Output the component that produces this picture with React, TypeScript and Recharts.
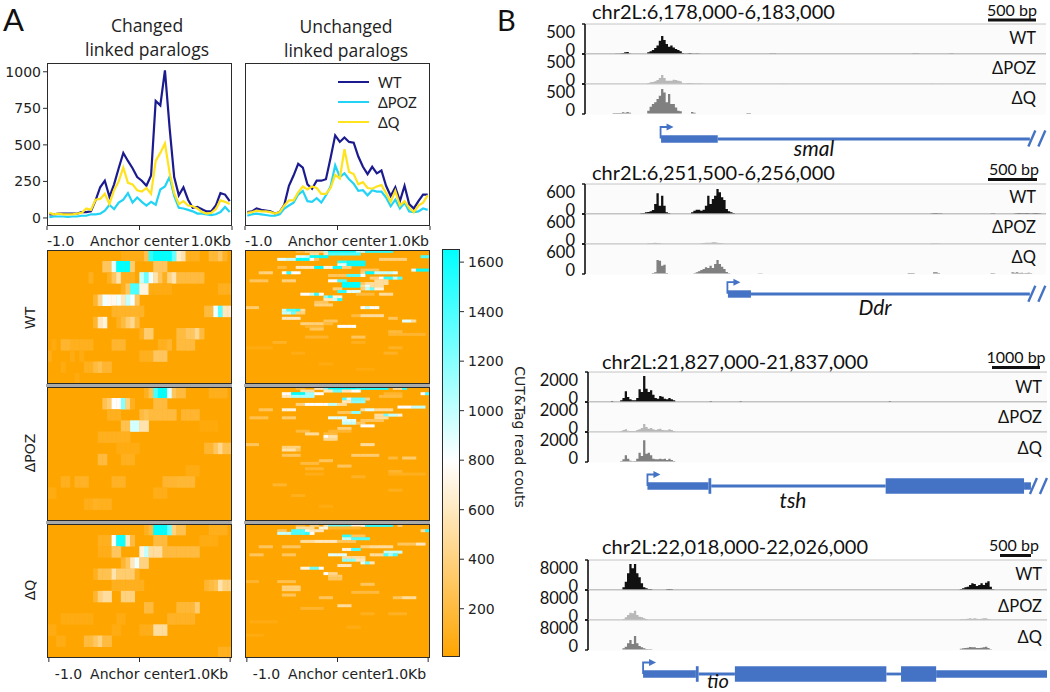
import React from 'react';
import {
    Area,
    AreaChart,
    Bar,
    BarChart,
    ComposedChart,
    Legend,
    Line,
    LineChart,
    ReferenceArea,
    ReferenceLine,
    Scatter,
    ScatterChart,
    XAxis,
    YAxis,
} from 'recharts';

// ---- Panel A: average profiles, 40 bins across the anchor
const changedWT = [25, 25, 30, 30, 30, 30, 30, 40, 40, 45, 120, 210, 255, 145, 230, 340, 445, 390, 340, 280, 255, 220, 290, 800, 770, 1010, 620, 280, 155, 210, 125, 70, 75, 60, 45, 45, 85, 170, 160, 115];
const changedPOZ = [5, 10, 10, 10, 8, 10, 10, 15, 15, 25, 25, 30, 50, 90, 60, 105, 125, 170, 105, 140, 110, 85, 110, 90, 195, 215, 280, 150, 70, 65, 55, 45, 30, 30, 25, 20, 25, 40, 75, 40];
const changedQ = [35, 25, 30, 25, 25, 25, 30, 35, 65, 55, 125, 130, 165, 95, 190, 250, 345, 240, 230, 190, 180, 205, 165, 390, 445, 510, 310, 170, 95, 115, 85, 80, 65, 40, 30, 35, 60, 120, 110, 95];
const unchangedWT = [40, 45, 65, 55, 50, 45, 30, 40, 90, 220, 290, 370, 345, 230, 200, 255, 255, 265, 410, 565, 520, 550, 520, 515, 420, 350, 300, 350, 305, 325, 220, 150, 210, 115, 220, 95, 65, 115, 160, 160];
const unchangedPOZ = [15, 25, 30, 25, 20, 15, 15, 25, 65, 85, 105, 160, 185, 115, 110, 135, 105, 155, 215, 360, 280, 305, 265, 235, 185, 190, 155, 190, 180, 180, 140, 80, 125, 65, 105, 45, 40, 45, 65, 55];
const unchangedQ = [35, 40, 50, 45, 45, 40, 30, 40, 85, 120, 120, 175, 215, 195, 215, 205, 165, 165, 205, 295, 270, 470, 315, 300, 230, 245, 205, 200, 215, 225, 170, 110, 185, 85, 115, 70, 40, 85, 105, 155];

const profileTicks = [0, 250, 500, 750, 1000];
const anchorLabels = ['-1.0', 'Anchor center', '1.0Kb'];
const colorbarTicks = [200, 400, 600, 800, 1000, 1200, 1400, 1600];

// ---- Panel A: heatmaps, [row, first col, last col, read count]
type Run = [number, number, number, number];

const heatChangedWT: Run[] = [
    [0, 16, 20, 70], [0, 21, 21, 250], [0, 22, 22, 1500], [0, 23, 26, 1650], [0, 27, 27, 1300], [0, 28, 28, 650], [0, 29, 29, 550], [0, 30, 32, 100], [0, 35, 36, 180], [0, 37, 37, 300], [0, 38, 38, 120],
    [1, 12, 13, 300], [1, 14, 14, 900], [1, 15, 17, 1650], [1, 18, 18, 350], [1, 23, 25, 300],
    [2, 9, 9, 100], [2, 13, 13, 100], [2, 14, 14, 300], [2, 15, 15, 550], [2, 16, 18, 100], [2, 20, 20, 1000], [2, 21, 21, 1300], [2, 22, 22, 850], [2, 23, 23, 550], [2, 24, 24, 300], [2, 25, 25, 100], [2, 26, 26, 400], [2, 27, 27, 550], [2, 28, 33, 200],
    [3, 16, 16, 100], [3, 17, 17, 300], [3, 18, 19, 1400], [3, 20, 21, 700], [3, 22, 26, 60], [3, 37, 39, 100],
    [4, 10, 10, 150], [4, 11, 11, 450], [4, 12, 12, 850], [4, 13, 14, 750], [4, 15, 15, 850], [4, 16, 16, 600], [4, 17, 17, 1000], [4, 18, 18, 850], [4, 19, 19, 300],
    [5, 14, 20, 130], [5, 34, 35, 200], [5, 36, 36, 850], [5, 37, 37, 1350], [5, 38, 39, 600],
    [6, 10, 10, 150], [6, 11, 11, 600], [6, 12, 12, 700], [6, 15, 15, 100], [6, 16, 16, 200], [6, 17, 17, 350], [6, 18, 18, 450], [6, 19, 19, 200],
    [7, 20, 20, 100], [7, 21, 22, 350], [7, 28, 29, 200], [7, 30, 31, 300], [7, 32, 32, 450], [7, 33, 33, 200],
    [8, 1, 1, 50], [8, 3, 4, 150], [8, 5, 9, 100], [8, 14, 16, 150], [8, 24, 25, 100], [8, 26, 26, 150], [8, 28, 31, 200],
    [9, 0, 0, 80], [9, 5, 5, 60], [9, 7, 7, 60], [9, 20, 22, 100], [9, 23, 25, 300],
    [10, 3, 3, 60], [10, 8, 9, 100], [10, 10, 10, 200], [10, 11, 11, 250], [10, 12, 13, 150],
    [11, 6, 6, 50],
];
const heatChangedPOZ: Run[] = [
    [0, 21, 21, 100], [0, 22, 22, 250], [0, 23, 23, 1400], [0, 24, 25, 1650], [0, 26, 26, 900], [0, 27, 27, 300], [0, 28, 29, 200], [0, 35, 38, 90],
    [1, 12, 12, 250], [1, 13, 13, 350], [1, 14, 15, 800], [1, 16, 16, 1200], [1, 17, 17, 400], [1, 18, 18, 100], [1, 23, 25, 200],
    [2, 13, 15, 100], [2, 20, 20, 200], [2, 21, 21, 250], [2, 22, 25, 200], [2, 26, 27, 200], [2, 29, 32, 150],
    [3, 16, 17, 250], [3, 18, 19, 950], [3, 20, 21, 550], [3, 33, 36, 40],
    [4, 11, 17, 100],
    [5, 15, 19, 60], [5, 34, 35, 150], [5, 36, 36, 300], [5, 37, 37, 450], [5, 38, 39, 250],
    [6, 11, 12, 200], [6, 16, 18, 100],
    [7, 30, 32, 60],
    [8, 3, 4, 100], [8, 6, 8, 120], [8, 14, 16, 120], [8, 25, 27, 150], [8, 28, 31, 170],
    [9, 0, 1, 60], [9, 23, 25, 80],
    [10, 8, 9, 80], [10, 10, 10, 120], [10, 11, 13, 100],
];
const heatChangedQ: Run[] = [
    [0, 21, 21, 100], [0, 22, 22, 200], [0, 23, 25, 1650], [0, 26, 26, 1300], [0, 27, 27, 400], [0, 28, 29, 250], [0, 35, 38, 90],
    [1, 11, 13, 100], [1, 14, 14, 850], [1, 15, 16, 1600], [1, 17, 17, 600], [1, 18, 18, 200], [1, 23, 25, 200], [1, 33, 36, 60],
    [2, 11, 13, 80], [2, 14, 15, 300], [2, 20, 20, 700], [2, 21, 21, 1000], [2, 22, 24, 500], [2, 25, 25, 200], [2, 26, 32, 200],
    [3, 16, 16, 150], [3, 17, 17, 300], [3, 18, 18, 600], [3, 19, 19, 850], [3, 20, 21, 400],
    [4, 10, 10, 100], [4, 11, 13, 250], [4, 14, 14, 550], [4, 15, 18, 350], [4, 19, 19, 100],
    [5, 14, 20, 100], [5, 34, 34, 150], [5, 35, 35, 200], [5, 36, 36, 250], [5, 37, 37, 550], [5, 38, 39, 400],
    [6, 10, 10, 150], [6, 11, 11, 400], [6, 12, 13, 500], [6, 16, 18, 400],
    [7, 21, 22, 200], [7, 28, 31, 170], [7, 32, 32, 350],
    [8, 3, 9, 60], [8, 15, 16, 60], [8, 26, 31, 120],
    [9, 0, 1, 60], [9, 14, 15, 60], [9, 20, 22, 80], [9, 23, 25, 500],
    [10, 2, 3, 70], [10, 8, 9, 200], [10, 10, 10, 300], [10, 11, 11, 400], [10, 12, 13, 200],
    [11, 37, 39, 100],
];
const heatUnchangedWT: Run[] = [
    [0, 11, 12, 200], [0, 13, 16, 400], [0, 17, 17, 1000], [0, 18, 23, 1650], [0, 24, 25, 1000], [0, 26, 31, 1500],
    [1, 14, 15, 500], [1, 17, 17, 600], [1, 18, 24, 1400],
    [2, 11, 12, 900], [2, 13, 13, 1000], [2, 14, 17, 1650], [2, 38, 39, 1400],
    [3, 7, 8, 900], [3, 9, 10, 1000], [3, 11, 13, 1650], [3, 14, 14, 800], [3, 15, 15, 300], [3, 29, 34, 400],
    [4, 20, 21, 1500], [4, 22, 25, 1650],
    [5, 20, 21, 900], [5, 22, 25, 1650],
    [6, 7, 8, 200], [6, 11, 14, 600], [6, 15, 16, 1650], [6, 17, 18, 700], [6, 19, 20, 1600], [6, 21, 22, 400],
    [7, 25, 28, 300], [7, 36, 36, 900], [7, 37, 39, 1650],
    [8, 3, 5, 400], [8, 8, 8, 800], [8, 9, 9, 1500], [8, 10, 11, 800], [8, 25, 25, 400], [8, 26, 27, 1650], [8, 28, 31, 1000], [8, 32, 32, 900],
    [9, 18, 21, 300], [9, 22, 24, 1400], [9, 25, 25, 800],
    [10, 27, 28, 400], [10, 29, 29, 800], [10, 30, 31, 1500], [10, 32, 32, 1000], [10, 33, 33, 1400],
    [11, 1, 4, 300], [11, 8, 10, 400], [11, 18, 19, 800], [11, 20, 21, 1400], [11, 28, 30, 500],
    [12, 21, 24, 1650], [12, 25, 25, 300], [12, 26, 30, 500],
    [13, 21, 24, 1650], [13, 25, 25, 500], [13, 26, 26, 900], [13, 27, 29, 500],
    [14, 19, 20, 400], [14, 25, 25, 400], [14, 26, 26, 1000], [14, 27, 27, 1300], [14, 28, 29, 700],
    [15, 20, 21, 1500], [15, 22, 24, 900],
    [16, 12, 13, 800], [16, 14, 14, 1000], [16, 15, 15, 1500], [16, 16, 16, 800], [16, 24, 27, 200], [16, 29, 31, 500],
    [17, 17, 17, 1200], [17, 18, 18, 1500], [17, 19, 20, 700],
    [18, 17, 18, 600], [18, 19, 19, 1000], [18, 20, 20, 1500],
    [19, 15, 17, 300],
    [20, 15, 18, 400],
    [21, 0, 2, 350], [21, 25, 25, 800], [21, 26, 26, 1000], [21, 27, 28, 800],
    [22, 8, 8, 1000], [22, 9, 10, 1400], [22, 11, 11, 1500], [22, 12, 12, 500],
    [23, 8, 9, 1000], [23, 10, 10, 1300], [23, 11, 12, 400],
    [24, 23, 24, 200], [24, 25, 29, 500],
    [25, 8, 11, 600], [25, 31, 32, 300],
    [26, 17, 19, 300], [26, 34, 35, 900], [26, 36, 36, 500],
    [27, 12, 16, 400], [27, 17, 18, 200],
    [28, 13, 16, 150], [28, 20, 23, 800],
    [29, 14, 16, 300],
    [30, 31, 33, 200],
    [31, 31, 38, 150],
    [32, 13, 17, 150], [32, 23, 25, 300],
    [34, 6, 8, 120], [34, 23, 25, 100],
    [36, 0, 5, 60], [36, 31, 33, 120],
    [38, 10, 12, 70], [38, 30, 32, 120],
    [42, 16, 18, 60],
    [44, 24, 27, 50],
];
const heatUnchangedPOZ: Run[] = [
    [0, 11, 12, 200], [0, 15, 16, 600], [0, 17, 17, 1200], [0, 18, 23, 1650], [0, 24, 30, 1550], [0, 32, 33, 500], [0, 34, 34, 1500],
    [1, 12, 14, 500], [1, 17, 18, 600], [1, 19, 20, 1300], [1, 21, 22, 600], [1, 23, 24, 800],
    [2, 8, 9, 800], [2, 10, 12, 1650], [2, 13, 14, 1100], [2, 15, 16, 800], [2, 30, 33, 150], [2, 38, 38, 800], [2, 39, 39, 1400],
    [3, 8, 9, 600], [3, 10, 14, 1100], [3, 29, 33, 200],
    [4, 21, 21, 1400], [4, 22, 22, 900], [4, 23, 25, 1300], [4, 26, 26, 400],
    [5, 21, 22, 600], [5, 23, 25, 1200],
    [6, 11, 12, 400], [6, 13, 17, 800], [6, 18, 19, 1000], [6, 20, 21, 500],
    [7, 33, 35, 800], [7, 36, 38, 1000],
    [8, 3, 5, 300], [8, 8, 10, 700], [8, 25, 25, 500], [8, 26, 27, 900], [8, 28, 31, 500],
    [9, 20, 22, 300], [9, 23, 24, 1200],
    [10, 28, 29, 500], [10, 30, 30, 1300], [10, 31, 32, 1000], [10, 33, 33, 700],
    [11, 1, 4, 250], [11, 8, 10, 350], [11, 18, 21, 900], [11, 28, 30, 500],
    [12, 21, 23, 900], [12, 25, 29, 300],
    [13, 21, 23, 1000], [13, 24, 25, 300],
    [14, 25, 27, 800],
    [15, 20, 22, 400],
    [16, 11, 13, 200], [16, 18, 22, 150],
    [17, 13, 15, 500], [17, 17, 19, 200],
    [18, 17, 17, 800], [18, 18, 19, 550],
    [19, 17, 19, 450],
    [21, 0, 2, 300], [21, 25, 27, 500],
    [22, 8, 11, 400],
    [23, 8, 10, 550], [23, 11, 11, 300],
    [25, 8, 11, 300], [25, 23, 28, 350],
    [26, 31, 32, 200], [26, 34, 36, 350],
    [27, 16, 18, 300],
    [28, 12, 15, 200],
    [29, 20, 22, 300],
    [30, 13, 16, 150],
    [31, 31, 33, 150],
    [32, 13, 16, 80], [32, 31, 38, 100],
    [33, 23, 25, 120],
    [36, 6, 8, 150],
    [38, 31, 33, 100],
    [40, 10, 12, 100],
    [44, 16, 18, 60],
];
const heatUnchangedQ: Run[] = [
    [0, 11, 12, 200], [0, 14, 15, 400], [0, 17, 17, 600], [0, 18, 22, 1300], [0, 23, 25, 700], [0, 26, 31, 1500], [0, 33, 33, 400],
    [1, 11, 14, 500], [1, 16, 17, 700], [1, 18, 24, 150],
    [2, 7, 8, 300], [2, 10, 12, 1400], [2, 13, 13, 700], [2, 14, 16, 600], [2, 38, 38, 500], [2, 39, 39, 1500],
    [3, 7, 9, 1000], [3, 10, 12, 1400], [3, 13, 13, 1500], [3, 14, 14, 800],
    [4, 21, 22, 1500], [4, 23, 25, 300],
    [5, 21, 22, 1000], [5, 23, 26, 1400],
    [6, 12, 14, 500], [6, 15, 19, 600], [6, 20, 23, 300],
    [7, 33, 36, 300], [7, 37, 38, 600],
    [8, 3, 5, 300], [8, 8, 11, 300], [8, 25, 26, 400], [8, 27, 31, 500],
    [9, 21, 22, 700], [9, 23, 24, 1400],
    [10, 30, 33, 1000],
    [11, 1, 3, 300], [11, 8, 10, 300], [11, 18, 21, 900], [11, 27, 29, 500], [11, 30, 30, 1400], [11, 31, 31, 1100], [11, 32, 32, 1400],
    [12, 21, 24, 500], [12, 25, 25, 500],
    [13, 21, 23, 1200], [13, 24, 25, 600],
    [14, 25, 25, 900], [14, 26, 26, 1300], [14, 27, 27, 600],
    [15, 20, 22, 600],
    [16, 12, 13, 700], [16, 14, 15, 1300], [16, 16, 16, 800],
    [18, 17, 17, 800], [18, 18, 19, 450],
    [19, 18, 20, 350],
    [20, 18, 20, 300],
    [21, 0, 2, 150], [21, 7, 10, 250],
    [22, 25, 27, 300],
    [23, 8, 11, 400],
    [24, 8, 11, 400],
    [25, 23, 28, 200],
    [26, 8, 10, 300],
    [27, 16, 18, 300], [27, 32, 33, 300], [27, 34, 36, 500],
    [30, 20, 22, 500],
    [31, 12, 16, 150],
    [33, 25, 27, 100], [33, 31, 34, 120],
    [36, 1, 6, 60],
    [38, 22, 24, 70],
    [41, 0, 3, 60],
];

// ---- Panel B: coverage tracks, [first bin, heights], 200 bins per locus
type Peak = [number, number[]];

const smalWT: Peak[] = [[13, [5, 5, 10, 15, 28, 33, 10]], [27, [28, 44, 67, 100, 140, 220, 300, 235, 165, 120, 140, 110, 85, 65, 45, 15]], [43, [5, 10, 15, 10, 5, 10, 5]], [80, [5, 5, 5]], [142, [5, 5, 5]], [158, [5, 5]]];
const smalPOZ: Peak[] = [[27, [17, 28, 33, 44, 67, 100, 150, 100, 56, 56, 56, 72, 67, 56, 44, 11]], [43, [8, 15, 15, 12, 8, 10, 8, 8]], [85, [5, 5]], [150, [4]], [155, [4]], [190, [6, 6]]];
const smalQ: Peak[] = [[12, [17, 17, 17, 17, 28, 22, 33, 22]], [27, [56, 122, 167, 195, 250, 306, 415, 360, 195, 335, 167, 167, 110, 56, 44]], [46, [33, 22]], [70, [17, 17]]];

const ddrWT: Peak[] = [[24, [13, 20, 33, 40, 53, 80, 200, 413, 167, 367, 167, 33, 20]], [46, [33, 67, 87, 87, 67, 87, 167, 367, 200, 300, 367, 500, 433, 333, 280, 100, 53, 33, 20]], [150, [10, 15, 15, 10, 10]], [176, [10, 10]], [186, [10, 15, 20, 15, 15, 20, 15, 10, 15, 20, 15, 10]]];
const ddrPOZ: Peak[] = [[27, [13, 13, 20, 27, 20, 13]], [50, [13, 20, 27, 27, 27, 33, 33, 27, 20, 13]], [150, [8, 10, 10, 8]]];
const ddrQ: Peak[] = [[29, [20, 33, 280, 267, 167, 187, 20]], [47, [13, 33, 53, 80, 100, 133, 120, 167, 120, 200, 280, 200, 147, 100, 40, 13]], [75, [10, 10]], [140, [20, 20, 20]], [151, [33, 33, 20]], [176, [20, 15]], [185, [33, 27, 33, 20, 27, 15, 20, 27, 15]]];

const tshWT: Peak[] = [[10, [60]], [14, [111, 267, 711, 333, 178, 111, 111, 267, 844, 667, 1733, 889, 667, 778, 489, 267, 222, 400, 356, 222, 178, 267, 178, 111]], [53, [44]], [66, [44]], [131, [44]]];
const tshPOZ: Peak[] = [[14, [67, 133, 178, 89, 67, 67, 67, 133, 178, 267, 533, 333, 222, 267, 178, 133, 178, 222, 133, 111, 111, 178, 133, 67]]];
const tshQ: Peak[] = [[14, [67, 178, 444, 222, 89, 44, 67, 222, 622, 400, 1444, 556, 622, 444, 222, 178, 178, 222, 178, 222, 133, 222, 133, 67]]];

const tioWT: Peak[] = [[15, [711, 2222, 4444, 6934, 5778, 6934, 4444, 3378, 1778, 711, 444, 267, 267]], [34, [178, 267, 178]], [162, [267, 444, 711, 889, 1333, 1778, 1600, 1067, 1333, 1778, 1333, 1956, 2311, 889, 178]]];
const tioPOZ: Peak[] = [[15, [267, 711, 1333, 1956, 1778, 2489, 1333, 889, 711, 444, 267]], [162, [178, 178, 267, 356, 444, 356, 444, 356, 267, 356, 444, 444, 267, 89]]];
const tioQ: Peak[] = [[15, [444, 889, 1778, 2667, 1600, 3734, 1778, 1067, 711, 444, 267, 178, 178]], [162, [356, 444, 533, 622, 800, 711, 711, 533, 533, 622, 711, 889, 533, 178]]];

// ---- Panel B: gene models, [first bin, last bin, part]
type GenePart = [number, number, 'utr' | 'cds' | 'intron'];

const smalGene: GenePart[] = [[33, 57.6, 'utr'], [57.6, 193, 'intron']];
const ddrGene: GenePart[] = [[62, 72, 'utr'], [72, 193, 'intron']];
const tshGene: GenePart[] = [[25.9, 52.5, 'utr'], [52.5, 53.7, 'cds'], [53.7, 129.7, 'intron'], [129.7, 190, 'cds'], [190, 193, 'utr']];
const tioGene: GenePart[] = [[24, 47, 'utr'], [47, 48.2, 'cds'], [48.2, 64, 'intron'], [64, 130, 'cds'], [130, 136.4, 'intron'], [136.4, 151.7, 'cds'], [151.7, 200, 'utr']];

const BLUE = '#4472C4';
const SAMPLE_COLORS = { WT: '#111111', POZ: '#b8b8b8', Q: '#808080' };
const TEXT_FONT = 'Lato, sans-serif';
const AXIS_FONT = '"DejaVu Sans", sans-serif';
const PART_HALF_HEIGHT = { utr: 3.7, cds: 7.8, intron: 1.4 };

const absolute = (left: number, top: number): React.CSSProperties => ({ position: 'absolute', left, top });

function profileData(wt: number[], poz: number[], q: number[]) {
    return wt.map((v, i) => ({ bin: i + 0.5, wt: v, poz: poz[i], q: q[i] }));
}

function heatCells(runs: Run[]) {
    const cells: { col: number; row: number; value: number }[] = [];
    runs.forEach(([row, from, to, value]) => {
        for (let c = from; c <= to; c++) cells.push({ col: c + 0.5, row: row + 0.5, value });
    });
    return cells;
}

function heatColor(value: number) {
    const mix = (a: number[], b: number[], t: number) =>
        `rgb(${a.map((v, i) => Math.round(v + (b[i] - v) * t)).join(',')})`;
    const orange = [255, 165, 0];
    const white = [255, 255, 255];
    const cyan = [0, 255, 255];
    if (value <= 800) return mix(orange, white, Math.max(0, value - 5) / 795);
    return mix(white, cyan, Math.min(1, (value - 800) / 850));
}

function trackData(peaks: Peak[]) {
    const heights = new Array(201).fill(0);
    peaks.forEach(([start, values]) => values.forEach((v, i) => (heights[start + i] = v)));
    return heights.map((v, bin) => ({ bin, v }));
}

function anchorTick(startDx: number, endDx: number, dy: number) {
    return ({ x, y, index }: any) => (
        <text
            x={x + (index === 0 ? startDx : index === 2 ? endDx : 0)}
            y={y + dy}
            textAnchor={index === 0 ? 'start' : index === 2 ? 'end' : 'middle'}
            fontFamily={AXIS_FONT}
            fontSize={14}
            fill="#222"
        >
            {anchorLabels[index]}
        </text>
    );
}

function TraceLegend({ payload }: any) {
    return (
        <div>
            {(payload || []).map((item: any) => (
                <div key={item.value} style={{ display: 'flex', alignItems: 'center', height: 20 }}>
                    <div style={{ width: 31, height: 2.5, background: item.color, marginRight: 9 }} />
                    <span style={{ fontFamily: TEXT_FONT, fontSize: 14.5, color: '#222' }}>{item.value}</span>
                </div>
            ))}
        </div>
    );
}

function Frame({ left, top, width, height }: { left: number; top: number; width: number; height: number }) {
    return (
        <div
            style={{
                ...absolute(left, top),
                width,
                height,
                boxSizing: 'border-box',
                border: '1.6px solid #2b2b2b',
                pointerEvents: 'none',
            }}
        />
    );
}

function ProfilePanel({ left, axisWidth, data, showLabels, legend }: { left: number; axisWidth: number; data: any[]; showLabels: boolean; legend: boolean }) {
    return (
        <LineChart
            width={axisWidth + 185 + 8}
            height={187}
            data={data}
            margin={{ top: 0, right: 8, bottom: 0, left: 0 }}
            style={absolute(left - axisWidth, 63)}
        >
            <XAxis
                dataKey="bin"
                type="number"
                domain={[0, 40]}
                ticks={[0, 20, 40]}
                height={24}
                interval={0}
                axisLine={false}
                tickLine={{ stroke: '#2b2b2b' }}
                tickSize={4}
                tick={anchorTick(0, -1, 14)}
            />
            <YAxis
                type="number"
                domain={[-55, 1060]}
                ticks={profileTicks}
                width={axisWidth}
                interval={0}
                axisLine={false}
                tickLine={{ stroke: '#2b2b2b' }}
                tickSize={4}
                tick={showLabels ? { fontFamily: AXIS_FONT, fontSize: 14, fill: '#222' } : false}
            />
            <Line dataKey="wt" name="WT" stroke="#1b1b8f" strokeWidth={2.2} dot={false} isAnimationActive={false} />
            <Line dataKey="poz" name="ΔPOZ" stroke="#22d3f5" strokeWidth={2.2} dot={false} isAnimationActive={false} />
            <Line dataKey="q" name="ΔQ" stroke="#ffe31c" strokeWidth={2.2} dot={false} isAnimationActive={false} />
            {legend && (
                <Legend
                    content={TraceLegend}
                    layout="horizontal"
                    verticalAlign="middle"
                    wrapperStyle={{ top: 9, left: 107, width: 90 }}
                />
            )}
        </LineChart>
    );
}

function Heatmap({ left, top, runs, rows, axis }: { left: number; top: number; runs: Run[]; rows: number; axis: boolean }) {
    const width = 185;
    const height = 134;
    const cellW = width / 40 + 0.3;
    const cellH = height / rows + 0.3;
    const drawCell = (p: any) => (
        <rect
            x={p.cx - cellW / 2}
            y={p.cy - cellH / 2}
            width={cellW}
            height={cellH}
            fill={heatColor(p.payload.value)}
            style={{ filter: 'blur(0.5px)' }}
        />
    );
    return (
        <ScatterChart
            width={width}
            height={height + (axis ? 28 : 0)}
            margin={{ top: 0, right: 0, bottom: 0, left: 0 }}
            style={absolute(left, top)}
        >
            <XAxis
                dataKey="col"
                type="number"
                domain={[0, 40]}
                ticks={[0.4, 20, 39.6]}
                hide={!axis}
                height={28}
                interval={0}
                axisLine={false}
                tickLine={{ stroke: '#2b2b2b' }}
                tickSize={4}
                tick={anchorTick(6, -2, 15)}
            />
            <YAxis dataKey="row" type="number" domain={[0, rows]} reversed hide />
            <ReferenceArea x1={0} x2={40} y1={0} y2={rows} fill="#FFA500" fillOpacity={1} stroke="none" />
            <Scatter data={heatCells(runs)} shape={drawCell} isAnimationActive={false} />
        </ScatterChart>
    );
}

function Colorbar() {
    const tick = ({ x, y, payload }: any) => (
        <text x={x + 2} y={y + 5} fontFamily={AXIS_FONT} fontSize={14} fill="#222">
            {payload.value}
        </text>
    );
    return (
        <BarChart
            width={72}
            height={408}
            data={[{ name: 'counts', top: 1653 }]}
            margin={{ top: 0, right: 0, bottom: 0, left: 0 }}
            barCategoryGap={0}
            style={absolute(442, 249)}
        >
            <defs>
                <linearGradient id="heatScale" x1="0" y1="1" x2="0" y2="0">
                    <stop offset="0%" stopColor="#FFA500" />
                    <stop offset="48%" stopColor="#FFFFFF" />
                    <stop offset="100%" stopColor="#00FFFF" />
                </linearGradient>
            </defs>
            <XAxis dataKey="name" hide />
            <YAxis
                orientation="right"
                type="number"
                domain={[5, 1653]}
                ticks={colorbarTicks}
                interval={0}
                width={54}
                axisLine={false}
                tickLine={{ stroke: '#2b2b2b' }}
                tickSize={4}
                tick={tick}
            />
            <Bar dataKey="top" fill="url(#heatScale)" isAnimationActive={false} />
        </BarChart>
    );
}

function Track({ left, top, width, peaks, max, color, lineColor, labelGap }: { left: number; top: number; width: number; peaks: Peak[]; max: number; color: string; lineColor: string; labelGap: number }) {
    const tick = ({ x, y, payload }: any) => (
        <text
            x={x - labelGap}
            y={y}
            dy={payload.value === 0 ? 1.5 : 13.5}
            textAnchor="end"
            fontFamily={TEXT_FONT}
            fontSize={16.5}
            fill="#111"
        >
            {payload.value}
        </text>
    );
    return (
        <AreaChart
            width={width + 50}
            height={42}
            data={trackData(peaks)}
            margin={{ top: 6, right: 0, bottom: 6, left: 0 }}
            style={absolute(left - 50, top - 6)}
        >
            <XAxis dataKey="bin" type="number" domain={[0, 200]} hide />
            <YAxis
                type="number"
                domain={[0, max]}
                ticks={[0, max]}
                interval={0}
                width={50}
                axisLine={{ stroke: '#111', strokeWidth: 1.6 }}
                tickLine={{ stroke: '#111', strokeWidth: 1.4 }}
                tickSize={3}
                tick={tick}
                allowDataOverflow
            />
            <ReferenceArea x1={0} x2={200} y1={0} y2={max} fill="#fbfbfb" fillOpacity={1} stroke="none" />
            <ReferenceLine y={max} stroke="#c4c4c4" strokeWidth={1} />
            <ReferenceLine y={0} stroke={lineColor} strokeWidth={1} />
            <Area
                type="stepAfter"
                dataKey="v"
                stroke="none"
                fill={color}
                fillOpacity={1}
                dot={false}
                isAnimationActive={false}
            />
        </AreaChart>
    );
}

function GeneModel({ left, width, center, parts, broken }: { left: number; width: number; center: number; parts: GenePart[]; broken: boolean }) {
    const px = (bin: number) => left + (bin / 200) * width;
    const tss = px(parts[0][0]);
    const tail = px(193);
    return (
        <>
            <ComposedChart
                width={width}
                height={24}
                data={[{ bin: 0, y: 0 }, { bin: 200, y: 0 }]}
                margin={{ top: 0, right: 0, bottom: 0, left: 0 }}
                style={absolute(left, center - 12)}
            >
                <XAxis dataKey="bin" type="number" domain={[0, 200]} hide />
                <YAxis type="number" domain={[-12, 12]} hide />
                {parts.map(([from, to, kind]) => (
                    <ReferenceArea
                        key={from}
                        x1={from}
                        x2={to}
                        y1={-PART_HALF_HEIGHT[kind]}
                        y2={PART_HALF_HEIGHT[kind]}
                        fill={BLUE}
                        fillOpacity={1}
                        stroke="none"
                    />
                ))}
                <Line dataKey="y" stroke="none" dot={false} isAnimationActive={false} />
            </ComposedChart>
            <svg width={1050} height={692} style={{ ...absolute(0, 0), pointerEvents: 'none' }}>
                <polyline points={`${tss},${center} ${tss},${center - 11.5} ${tss + 7},${center - 11.5}`} fill="none" stroke={BLUE} strokeWidth={1.8} />
                <polygon points={`${tss + 6},${center - 15} ${tss + 13},${center - 11.5} ${tss + 6},${center - 8}`} fill={BLUE} />
                {broken && (
                    <>
                        <line x1={tail - 1} y1={center + 8} x2={tail + 6} y2={center - 8} stroke={BLUE} strokeWidth={2.4} />
                        <line x1={tail + 9} y1={center + 8} x2={tail + 16} y2={center - 8} stroke={BLUE} strokeWidth={2.4} />
                    </>
                )}
            </svg>
        </>
    );
}

function Locus(props: {
    left: number;
    top: number;
    width: number;
    max: number;
    labelGap: number;
    wt: Peak[];
    poz: Peak[];
    q: Peak[];
    gene: GenePart[];
    geneCenter: number;
    broken: boolean;
}) {
    const { left, top, width, max, labelGap, wt, poz, q, gene, geneCenter, broken } = props;
    return (
        <>
            <Track left={left} top={top} width={width} peaks={wt} max={max} labelGap={labelGap} color={SAMPLE_COLORS.WT} lineColor="#888" />
            <Track left={left} top={top + 30} width={width} peaks={poz} max={max} labelGap={labelGap} color={SAMPLE_COLORS.POZ} lineColor="#c4c4c4" />
            <Track left={left} top={top + 60} width={width} peaks={q} max={max} labelGap={labelGap} color={SAMPLE_COLORS.Q} lineColor="#fbfbfb" />
            <GeneModel left={left} width={width} center={geneCenter} parts={gene} broken={broken} />
        </>
    );
}

function Labels() {
    const mid = { dominantBaseline: 'central' as const };
    const title = { fontFamily: '"Open Sans", sans-serif', fontSize: 17.5, fill: '#222', textAnchor: 'middle' as const, ...mid };
    const region = { fontFamily: TEXT_FONT, fontSize: 20, fill: '#111', ...mid };
    const sample = { fontFamily: TEXT_FONT, fontSize: 16.5, fill: '#111', textAnchor: 'end' as const, ...mid };
    const bar = { fontFamily: TEXT_FONT, fontSize: 16, fill: '#111', textAnchor: 'middle' as const, ...mid };
    const gene = { fontFamily: TEXT_FONT, fontSize: 21, fontStyle: 'italic', fill: '#111', textAnchor: 'middle' as const, ...mid };
    const row = { fontFamily: AXIS_FONT, fontSize: 14, fill: '#222', textAnchor: 'middle' as const, ...mid };
    return (
        <svg width={1050} height={692} style={{ ...absolute(0, 0), pointerEvents: 'none' }}>
            <text x={3} y={19} fontFamily={TEXT_FONT} fontSize={31} fill="#111" {...mid}>A</text>
            <text x={497} y={19} fontFamily={TEXT_FONT} fontSize={29} fill="#111" {...mid}>B</text>

            <text x={147} y={25} {...title}>Changed</text>
            <text x={147} y={49} {...title}>linked paralogs</text>
            <text x={346} y={26} {...title}>Unchanged</text>
            <text x={346} y={50} {...title}>linked paralogs</text>

            <text x={30} y={318} transform="rotate(-90 30 318)" {...row}>WT</text>
            <text x={30} y={453} transform="rotate(-90 30 453)" {...row}>ΔPOZ</text>
            <text x={30} y={590} transform="rotate(-90 30 590)" {...row}>ΔQ</text>
            <text x={520} y={437} transform="rotate(90 520 437)" {...row}>CUT&amp;Tag read couts</text>

            <text x={592} y={11} {...region}>chr2L:6,178,000-6,183,000</text>
            <text x={592} y={172} {...region}>chr2L:6,251,500-6,256,000</text>
            <text x={602} y={361} {...region}>chr2L:21,827,000-21,837,000</text>
            <text x={602} y={546} {...region}>chr2L:22,018,000-22,026,000</text>

            <text x={1036} y={38} {...sample}>WT</text>
            <text x={1036} y={68} {...sample}>ΔPOZ</text>
            <text x={1036} y={98} {...sample}>ΔQ</text>
            <text x={1036} y={197} {...sample}>WT</text>
            <text x={1036} y={227} {...sample}>ΔPOZ</text>
            <text x={1036} y={257} {...sample}>ΔQ</text>
            <text x={1042} y={387} {...sample}>WT</text>
            <text x={1042} y={417} {...sample}>ΔPOZ</text>
            <text x={1042} y={448} {...sample}>ΔQ</text>
            <text x={1042} y={574} {...sample}>WT</text>
            <text x={1042} y={606} {...sample}>ΔPOZ</text>
            <text x={1042} y={637} {...sample}>ΔQ</text>

            <text x={1012} y={9} {...bar}>500 bp</text>
            <rect x={988} y={18.5} width={48} height={3} fill="#111" />
            <text x={1014} y={168} {...bar}>500 bp</text>
            <rect x={988} y={178} width={49} height={3} fill="#111" />
            <text x={1016} y={356} {...bar}>1000 bp</text>
            <rect x={992} y={366} width={48} height={3} fill="#111" />
            <text x={1014} y={544} {...bar}>500 bp</text>
            <rect x={1000} y={554} width={31} height={3} fill="#111" />

            <text x={814} y={147} {...gene}>smal</text>
            <text x={875} y={306} {...gene}>Ddr</text>
            <text x={793} y={499} {...gene}>tsh</text>
            <text x={718} y={680} {...gene} fontSize={20}>tio</text>
        </svg>
    );
}

export default function App() {
    return (
        <div style={{ ...absolute(0, 0), width: 1050, height: 692, overflow: 'hidden', background: '#fff' }}>
            <ProfilePanel left={47} axisWidth={47} data={profileData(changedWT, changedPOZ, changedQ)} showLabels legend={false} />
            <ProfilePanel left={245} axisWidth={14} data={profileData(unchangedWT, unchangedPOZ, unchangedQ)} showLabels={false} legend />
            <Frame left={47} top={63} width={185} height={163} />
            <Frame left={245} top={63} width={185} height={163} />

            <div style={{ ...absolute(46, 384), width: 186, height: 3, background: '#aaa' }} />
            <div style={{ ...absolute(46, 521), width: 186, height: 3, background: '#aaa' }} />
            <div style={{ ...absolute(244, 384), width: 186, height: 3, background: '#aaa' }} />
            <div style={{ ...absolute(244, 521), width: 186, height: 3, background: '#aaa' }} />

            <Heatmap left={47} top={250} runs={heatChangedWT} rows={12} axis={false} />
            <Heatmap left={47} top={387} runs={heatChangedPOZ} rows={12} axis={false} />
            <Heatmap left={47} top={524} runs={heatChangedQ} rows={12} axis />
            <Heatmap left={245} top={250} runs={heatUnchangedWT} rows={50} axis={false} />
            <Heatmap left={245} top={387} runs={heatUnchangedPOZ} rows={50} axis={false} />
            <Heatmap left={245} top={524} runs={heatUnchangedQ} rows={50} axis />
            {[250, 387, 524].map((top) => (
                <React.Fragment key={top}>
                    <Frame left={47} top={top} width={185} height={134} />
                    <Frame left={245} top={top} width={185} height={134} />
                </React.Fragment>
            ))}

            <Colorbar />
            <Frame left={442} top={249} width={18} height={408} />

            <Locus left={584.5} top={24} width={461} max={500} labelGap={5} wt={smalWT} poz={smalPOZ} q={smalQ} gene={smalGene} geneCenter={138.5} broken />
            <Locus left={584.5} top={184} width={461} max={600} labelGap={5} wt={ddrWT} poz={ddrPOZ} q={ddrQ} gene={ddrGene} geneCenter={293.7} broken />
            <Locus left={588} top={372} width={459} max={2000} labelGap={5} wt={tshWT} poz={tshPOZ} q={tshQ} gene={tshGene} geneCenter={486} broken />
            <Locus left={588} top={560} width={459} max={8000} labelGap={5} wt={tioWT} poz={tioPOZ} q={tioQ} gene={tioGene} geneCenter={674} broken={false} />

            <Labels />
        </div>
    );
}
